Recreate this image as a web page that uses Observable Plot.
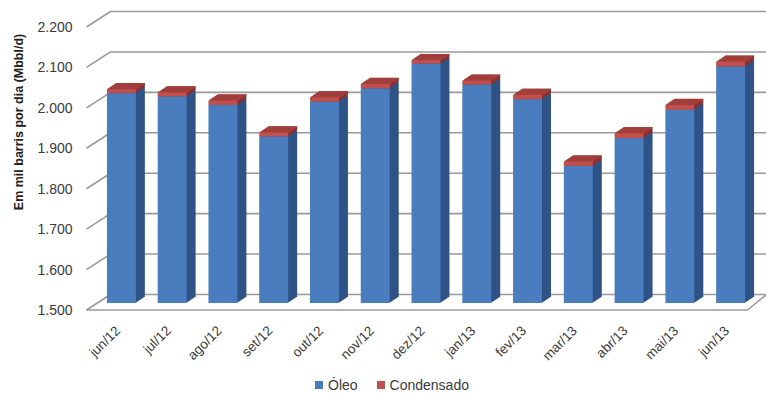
<!DOCTYPE html>
<html>
<head>
<meta charset="utf-8">
<script src="https://cdn.jsdelivr.net/npm/d3@7"></script>
<script src="https://cdn.jsdelivr.net/npm/@observablehq/plot@0.6"></script>
<style>
  html, body { margin: 0; padding: 0; background: #fff; overflow: hidden; }
  #chart svg { display: block; }
  #legend { height: 22px; margin-top: 2px; display: flex; align-items: center; padding-left: 315px;
            font-family: "Liberation Sans", Arial, sans-serif; font-size: 14px; color: #3a3a3a; }
  #legend .sw { display: inline-block; width: 8px; height: 8px; margin-right: 5px; }
  #legend .item { display: flex; align-items: center; margin-right: 19px; }
</style>
</head>
<body>
<div id="chart"></div>
<div id="legend"></div>
<script>
const months = ["jun/12","jul/12","ago/12","set/12","out/12","nov/12","dez/12","jan/13","fev/13","mar/13","abr/13","mai/13","jun/13"];
const oleo = [2019, 2011, 1990, 1912, 1998, 2031, 2092, 2040, 2004, 1839, 1908, 1978, 2085];
const condensado = [10, 10, 11, 10, 11, 11, 9, 10, 11, 11, 12, 12, 12];
const yTicks = [1500, 1600, 1700, 1800, 1900, 2000, 2100, 2200];
const seriesNames = ["Óleo", "Condensado"];
const yTitle = "Em mil barris por dia (Mbbl/d)";

const colors = { blue: "#4a7dbd", blueSide: "#2f5386", red: "#c0504d", redTop: "#a23f3c", redSide: "#8a302e" };

const W = 766, H = 372, mL = 96, mR = 10, mT = 20, mB = 69;
const yMin = 1500, yMax = 2200;
const PX_X = (W - mL - mR) / months.length;          // px per x unit
const PX_Y = (H - mB - mT) / (yMax - yMin);           // px per y unit
const hw = 0.285;                                      // half bar width (x units)
const depthSteps = d3.range(1, 10);                    // 3D extrusion steps

const rows = months.map((m, i) => ({ i, m, oleo: oleo[i], cond: condensado[i], total: oleo[i] + condensado[i] }));
const fmt = d => String(d).replace(/(\d)(\d{3})$/, "$1.$2");

const frontOff = 6.5, backOff = 9;
const xFrontL = -0.5 - 10 / PX_X, xBackL = -0.5 + 14 / PX_X;
const xFrontR = 12.5 - 9 / PX_X, xBackR = 12.5 + 10 / PX_X;

const marks = [
  Plot.ruleY(yTicks, { dx: 14, dy: -backOff, stroke: "#9a9a9a", strokeWidth: 1.6 }),
  Plot.link(yTicks, { x1: xFrontL, x2: xBackL, y1: d => d - frontOff / PX_Y, y2: d => d + backOff / PX_Y, stroke: "#9a9a9a", strokeWidth: 1.6 }),
  Plot.link([yMin], { x1: xFrontL, x2: xFrontR, y1: d => d - frontOff / PX_Y, y2: d => d - frontOff / PX_Y, stroke: "#9a9a9a", strokeWidth: 1.6 }),
  Plot.link([yMin], { x1: xFrontR, x2: xBackR, y1: d => d - frontOff / PX_Y, y2: d => d + backOff / PX_Y, stroke: "#9a9a9a", strokeWidth: 1.6 })
];
for (const k of depthSteps) {
  marks.push(Plot.rect(rows, { x1: d => d.i - hw, x2: d => d.i + hw, y1: yMin, y2: "oleo", dx: k, dy: -k * 2 / 3, fill: colors.blueSide }));
}
for (const k of depthSteps) {
  marks.push(Plot.rect(rows, { x1: d => d.i - hw, x2: d => d.i + hw, y1: "oleo", y2: "total", dx: k, dy: -k * 2 / 3, fill: colors.redSide }));
}
for (const k of depthSteps) {
  marks.push(Plot.ruleY(rows, { y: "total", x1: d => d.i - hw, x2: d => d.i + hw, dx: k, dy: -k * 2 / 3, stroke: colors.redTop, strokeWidth: 1.2 }));
}
marks.push(
  Plot.rect(rows, { x1: d => d.i - hw, x2: d => d.i + hw, y1: yMin, y2: "oleo", fill: colors.blue }),
  Plot.rect(rows, { x1: d => d.i - hw, x2: d => d.i + hw, y1: "oleo", y2: "total", fill: colors.red }),
  Plot.text(rows, { x: "i", y: yMin, text: "m", rotate: -45, textAnchor: "end", dx: -4, dy: 25, fontSize: 13.5, fill: "#3a3a3a" }),
  Plot.text(yTicks, { y: d => d, text: fmt, frameAnchor: "left", textAnchor: "end", dx: -24, dy: 7, fontSize: 14, fill: "#3a3a3a" }),
  Plot.text([yTitle], { text: d => d, frameAnchor: "left", textAnchor: "middle", rotate: -90, dx: -78, dy: -40, fontSize: 12.5, fontWeight: "bold", fill: "#222" })
);

const chart = Plot.plot({
  width: W, height: H,
  marginLeft: mL, marginRight: mR, marginTop: mT, marginBottom: mB,
  style: { fontFamily: "'Liberation Sans', Arial, sans-serif", background: "#fff", overflow: "visible" },
  x: { type: "linear", domain: [-0.5, 12.5], axis: null },
  y: { domain: [yMin, yMax], axis: null },
  marks
});
document.getElementById("chart").appendChild(chart);

const legend = document.getElementById("legend");
[[seriesNames[0], colors.blue], [seriesNames[1], colors.red]].forEach(([name, c]) => {
  const item = document.createElement("span");
  item.className = "item";
  item.innerHTML = `<span class="sw" style="background:${c}"></span><span>${name}</span>`;
  legend.appendChild(item);
});
</script>
</body>
</html>
